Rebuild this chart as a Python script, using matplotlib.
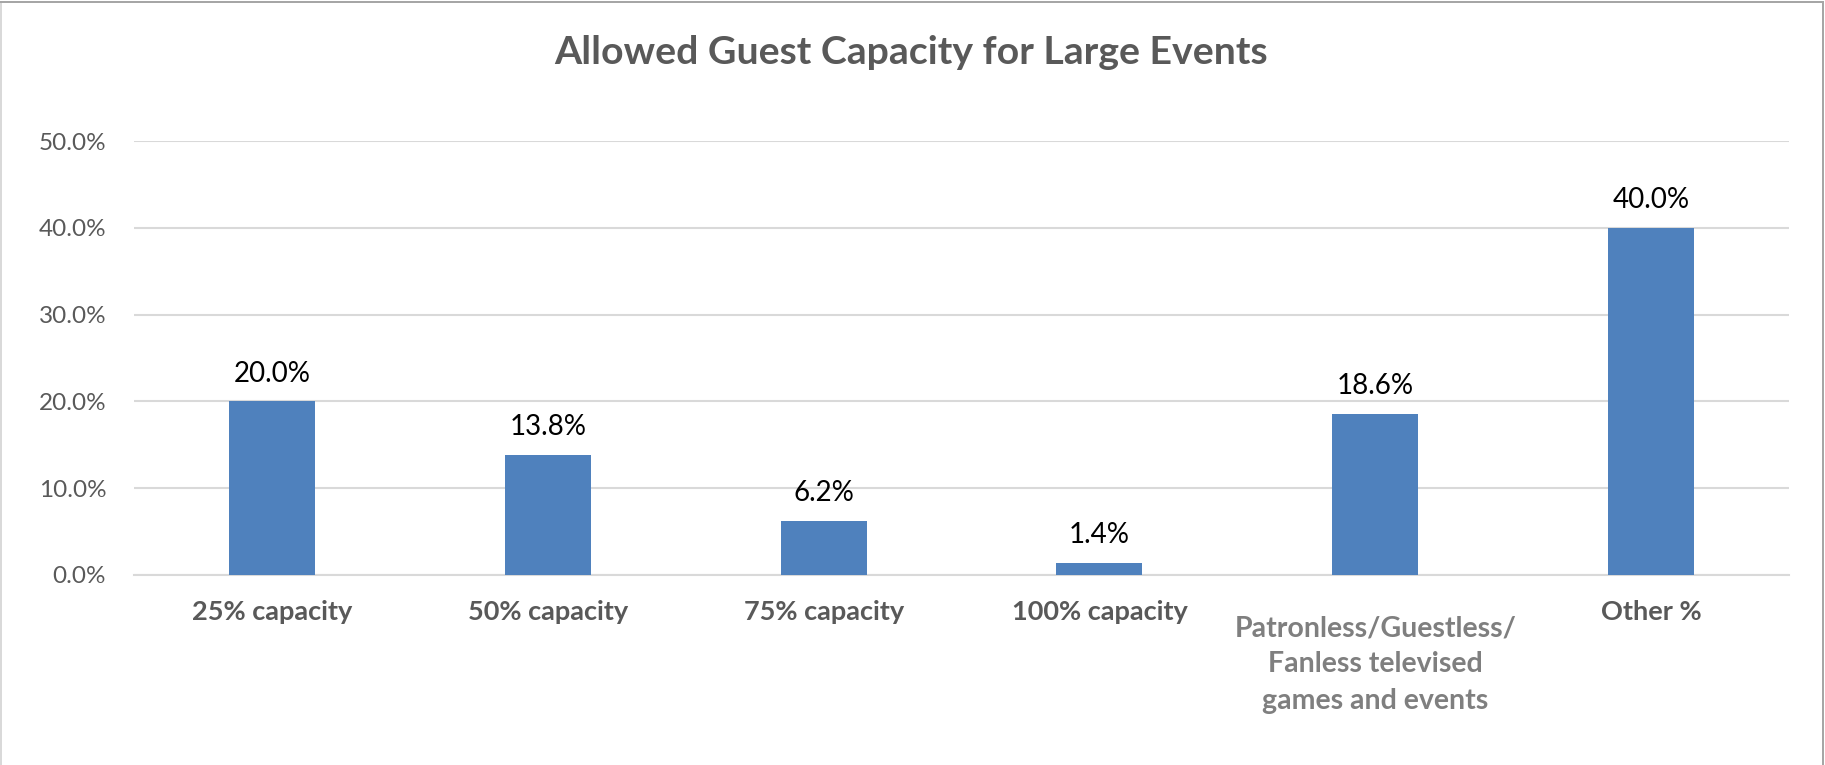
import matplotlib
matplotlib.use("Agg")
import matplotlib.pyplot as plt
from matplotlib.patches import Rectangle
from matplotlib.ticker import FuncFormatter

title = "Allowed Guest Capacity for Large Events"
categories = ["25% capacity", "50% capacity", "75% capacity", "100% capacity",
              "Patronless/Guestless/\nFanless televised\ngames and events", "Other %"]
values = [20.0, 13.8, 6.2, 1.4, 18.6, 40.0]
yticks = [0, 10, 20, 30, 40, 50]

FONT = "Lato"
W, H, DPI = 1825, 765, 100
fig = plt.figure(figsize=(W / DPI, H / DPI), dpi=DPI)
fig.patch.set_facecolor("white")

left, right = 134 / W, 1789 / W
bottom, top = (H - 574.8) / H, (H - 141.3) / H
ax = fig.add_axes([left, bottom, right - left, top - bottom])

x = list(range(len(categories)))
bars = ax.bar(x, values, width=0.312, color="#4f81bd", zorder=3)
ax.set_xlim(-0.5, len(categories) - 0.5)
ax.set_ylim(0, 50)
ax.set_yticks(yticks)
ax.yaxis.set_major_formatter(FuncFormatter(lambda v, p: f"{v:.1f}%"))
ax.grid(axis="y", color="#d9d9d9", linewidth=1.5, zorder=0)
for s in ["top", "right", "left"]:
    ax.spines[s].set_visible(False)
ax.spines["bottom"].set_color("#d9d9d9")
ax.spines["bottom"].set_linewidth(1.5)
ax.tick_params(axis="y", length=0, pad=20, labelsize=17.5, labelcolor="#595959")
ax.tick_params(axis="x", length=0, labelbottom=False)
for lab in ax.get_yticklabels():
    lab.set_fontfamily(FONT)

# data labels
for xi, v in zip(x, values):
    ax.annotate(f"{v:.1f}%", (xi, v), xytext=(0, 20), textcoords="offset points",
                ha="center", va="center", fontsize=20, color="#000000", family=FONT)

# category labels
tr = ax.get_xaxis_transform()
for xi, c in zip(x, categories):
    if "\n" in c:
        ax.text(xi, -0.2068, c, transform=tr, ha="center", va="center",
                fontsize=20.5, fontweight="bold", color="#7f7f7f", family=FONT,
                linespacing=1.49, multialignment="center")
    else:
        ax.text(xi, -0.0858, c, transform=tr, ha="center", va="center",
                fontsize=19.5, fontweight="bold", color="#595959", family=FONT)

fig.text(911 / W, 1 - 53 / H, title, ha="center", va="center", fontsize=28.3,
         fontweight="bold", color="#595959", family=FONT)

# border
fig.add_artist(Rectangle((0, 1 - 3 / H), 1823 / W, 2 / H, transform=fig.transFigure,
                         facecolor="#a6a6a6", edgecolor="none"))
fig.add_artist(Rectangle((0, 0), 1.5 / W, 1 - 3 / H, transform=fig.transFigure,
                         facecolor="#d9d9d9", edgecolor="none"))
fig.add_artist(Rectangle((1821.7 / W, 0), 2 / W, 1 - 1 / H, transform=fig.transFigure,
                         facecolor="#a6a6a6", edgecolor="none"))

fig.savefig("out.png", dpi=DPI, facecolor="white")
